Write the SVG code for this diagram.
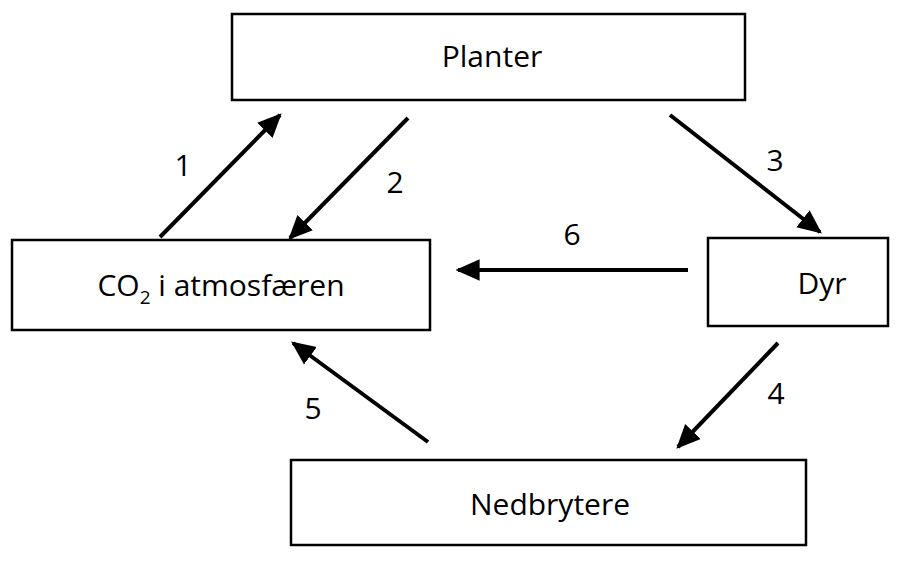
<svg xmlns="http://www.w3.org/2000/svg" width="919" height="563" viewBox="0 0 919 563">
<style>
.box{fill:#fff;stroke:#000;stroke-width:2.5}
.t{font-family:"Open Sans","Liberation Sans",sans-serif;font-size:30px;fill:#000;text-anchor:middle}
.n{font-family:"Open Sans","Liberation Sans",sans-serif;font-size:30px;fill:#000;text-anchor:middle}
.c{stroke:#000;stroke-width:4;fill:none;marker-end:url(#ah)}
</style>
<defs><marker id="ah" viewBox="0 0 10 10" refX="9" refY="5" markerWidth="6" markerHeight="6" markerUnits="strokeWidth" orient="auto"><path d="M0,0.5 L10,5 L0,9.5 z" fill="#000"/></marker></defs>
<rect width="919" height="563" fill="#fff"/>
<g id="planter"><rect class="box" x="232" y="14" width="513" height="86"/><text class="t" x="492" y="67">Planter</text></g>
<g id="co2"><rect class="box" x="12" y="240" width="418" height="90"/><text class="t" x="221" y="296">CO<tspan font-size="19" dy="8">2</tspan><tspan dy="-8"> i atmosfæren</tspan></text></g>
<g id="dyr"><rect class="box" x="708" y="238" width="180" height="88"/><text class="t" x="822" y="294">Dyr</text></g>
<g id="nedbrytere"><rect class="box" x="291" y="460" width="515" height="85"/><text class="t" x="550" y="515">Nedbrytere</text></g>
<g id="connectors">
<line class="c" x1="160" y1="237" x2="280" y2="115"/>
<line class="c" x1="408" y1="118" x2="290" y2="238"/>
<line class="c" x1="670" y1="115" x2="820" y2="232"/>
<line class="c" x1="688" y1="270" x2="458" y2="270"/>
<line class="c" x1="778" y1="343" x2="678" y2="447"/>
<line class="c" x1="428" y1="442" x2="293" y2="343"/>
<text class="n" x="183" y="176">1</text>
<text class="n" x="395" y="193">2</text>
<text class="n" x="775" y="171">3</text>
<text class="n" x="572" y="245">6</text>
<text class="n" x="776" y="404">4</text>
<text class="n" x="313" y="419">5</text>
</g>
</svg>
